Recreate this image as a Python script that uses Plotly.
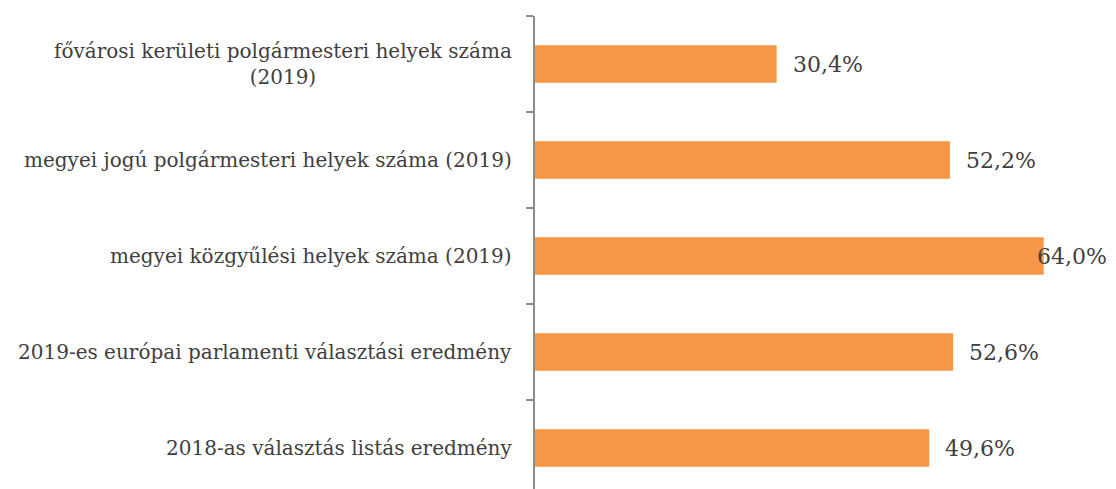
import plotly.graph_objects as go

categories = [
    "2018-as választás listás eredmény",
    "2019-es európai parlamenti választási eredmény",
    "megyei közgyűlési helyek száma (2019)",
    "megyei jogú polgármesteri helyek száma (2019)",
    "fővárosi kerületi polgármesteri helyek száma<br>(2019)",
]
values = [49.6, 52.6, 64.0, 52.2, 30.4]
value_labels = ["49,6%", "52,6%", "64,0%", "52,2%", "30,4%"]

BAR_COLOR = "#F79646"
TEXT_COLOR = "#404040"
FONT = "DejaVu Serif"

fig = go.Figure(go.Bar(
    x=values,
    y=list(range(len(categories))),
    orientation="h",
    marker=dict(color=BAR_COLOR, line=dict(width=0)),
    width=0.39,
    hoverinfo="skip",
))

annotations = []
for i, (cat, v, lab) in enumerate(zip(categories, values, value_labels)):
    annotations.append(dict(
        x=0, xref="paper", y=i, yref="y", text=cat, showarrow=False,
        xanchor="right", yanchor="middle", align="center", xshift=-21,
        font=dict(family=FONT, size=20, color=TEXT_COLOR),
    ))
    annotations.append(dict(
        x=v, xref="x", y=i, yref="y", text=lab, showarrow=False,
        xanchor="left", yanchor="middle", xshift=(14 if v < max(values) else -9),
        font=dict(family=FONT, size=22, color=TEXT_COLOR),
    ))

fig.update_layout(
    width=1108, height=481,
    margin=dict(l=527, r=0, t=8, b=0),
    paper_bgcolor="white", plot_bgcolor="white",
    showlegend=False,
    annotations=annotations,
    xaxis=dict(range=[0, 73.1], visible=False, fixedrange=True),
    yaxis=dict(
        range=[-0.427, 4.5], showticklabels=False, showgrid=False, zeroline=False,
        showline=True, linecolor="#8c8c8c", linewidth=1.5,
        ticks="outside", ticklen=7, tickcolor="#8c8c8c", tickwidth=1.5,
        tickmode="array", tickvals=[0.5, 1.5, 2.5, 3.5, 4.5], fixedrange=True,
    ),
)

fig.write_html("out.html")
